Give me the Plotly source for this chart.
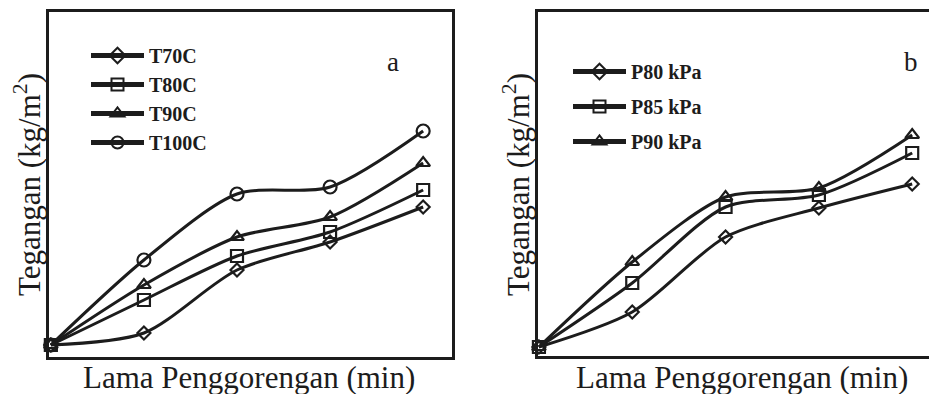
import plotly.graph_objects as go

# ---- data (arbitrary tension units; no tick labels in source) ----
time_steps = [0, 1, 2, 3, 4]

names_a = ["T70C", "T80C", "T90C", "T100C"]
t70 = [1.2, 2.4, 8.7, 11.5, 15.0]
t80 = [1.2, 5.7, 10.1, 12.5, 16.7]
t90 = [1.2, 7.2, 12.0, 14.0, 19.4]
t100 = [1.2, 9.7, 16.3, 17.0, 22.6]

names_b = ["P80 kPa", "P85 kPa", "P90 kPa"]
p80 = [0.9, 4.4, 11.9, 14.8, 17.2]
p85 = [0.9, 7.3, 14.9, 16.1, 20.3]
p90 = [0.9, 9.4, 15.9, 16.8, 22.1]

x_title = "Lama Penggorengan (min)"
y_title = "Tegangan (kg/m<sup>2</sup>)"

# ---- styling ----
W, H = 929, 394
INK = "#1c1c1c"
SERIF = "Liberation Serif"

sym_a = ["diamond-open", "square-open", "triangle-up-open", "circle-open"]
size_a = [10, 12, 12, 13]
sym_b = ["diamond-open", "square-open", "triangle-up-open"]
size_b = [10, 12, 12]

fig = go.Figure()

for name, ys, sym, sz in zip(names_a, [t70, t80, t90, t100], sym_a, size_a):
    fig.add_trace(go.Scatter(
        x=time_steps, y=ys, name=name, mode="lines+markers",
        line=dict(color=INK, width=3, shape="spline", smoothing=0.8),
        marker=dict(symbol=sym, size=sz, color=INK, line=dict(width=2.2, color=INK)),
        cliponaxis=False, xaxis="x", yaxis="y", legend="legend",
    ))

for i, (name, ys, sym, sz) in enumerate(zip(names_b, [p80, p85, p90], sym_b, size_b)):
    fig.add_trace(go.Scatter(
        x=time_steps, y=ys, name=name, mode="lines+markers",
        line=dict(color=INK, width=3, shape="spline", smoothing=0.8),
        marker=dict(symbol=sym, size=sz, color=INK, line=dict(width=2.2, color=INK)),
        cliponaxis=False, xaxis="x2", yaxis="y2", legend="legend2",
        legendgroup=f"g{i}",
    ))

def px_x(p):
    return p / W

def px_y(p):
    return 1 - p / H

axis_common = dict(showgrid=False, zeroline=False, showticklabels=False, ticks="",
                   showline=True, linecolor=INK, linewidth=3)

fig.update_layout(
    width=W, height=H,
    margin=dict(l=0, r=0, t=0, b=0),
    paper_bgcolor="white", plot_bgcolor="white",
    font=dict(family=SERIF, color=INK),
    xaxis=dict(domain=[px_x(49), px_x(452)], range=[-0.02, 4.31], mirror=True,
               anchor="y", **axis_common),
    yaxis=dict(domain=[px_y(357), px_y(12)], range=[0, 34.5], mirror=True,
               anchor="x", **axis_common),
    xaxis2=dict(domain=[px_x(538), 1.0], range=[-0.01, 4.18], mirror=True,
                anchor="y2", **axis_common),
    yaxis2=dict(domain=[px_y(356), px_y(12)], range=[0, 34.4], mirror=False,
                anchor="x2", **axis_common),
    legend=dict(x=px_x(86), y=px_y(36), xanchor="left", yanchor="top",
                bgcolor="rgba(0,0,0,0)", borderwidth=0, itemsizing="constant",
                itemwidth=53,
                font=dict(family=SERIF, size=20, color=INK, weight="bold"),
                tracegroupgap=0),
    legend2=dict(x=px_x(568), y=px_y(52), xanchor="left", yanchor="top",
                 bgcolor="rgba(0,0,0,0)", borderwidth=0, itemsizing="constant",
                 itemwidth=53,
                 font=dict(family=SERIF, size=20, color=INK, weight="bold"),
                 tracegroupgap=6),
    showlegend=True,
)

ann_font = dict(family=SERIF, size=31, color=INK)
annotations = [
    dict(text=y_title, x=px_x(27), y=px_y(185), xref="paper", yref="paper",
         textangle=-90, showarrow=False, xanchor="center", yanchor="middle", font=ann_font),
    dict(text=y_title, x=px_x(516), y=px_y(185), xref="paper", yref="paper",
         textangle=-90, showarrow=False, xanchor="center", yanchor="middle", font=ann_font),
    dict(text=x_title, x=px_x(249), y=px_y(377), xref="paper", yref="paper",
         showarrow=False, xanchor="center", yanchor="middle", font=ann_font),
    dict(text=x_title, x=px_x(742), y=px_y(377), xref="paper", yref="paper",
         showarrow=False, xanchor="center", yanchor="middle", font=ann_font),
    dict(text="a", x=px_x(393), y=px_y(62), xref="paper", yref="paper",
         showarrow=False, xanchor="center", yanchor="middle",
         font=dict(family=SERIF, size=27, color=INK)),
    dict(text="b", x=px_x(911), y=px_y(62), xref="paper", yref="paper",
         showarrow=False, xanchor="center", yanchor="middle",
         font=dict(family=SERIF, size=27, color=INK)),
]
fig.update_layout(annotations=annotations)

fig.write_html("out.html")
